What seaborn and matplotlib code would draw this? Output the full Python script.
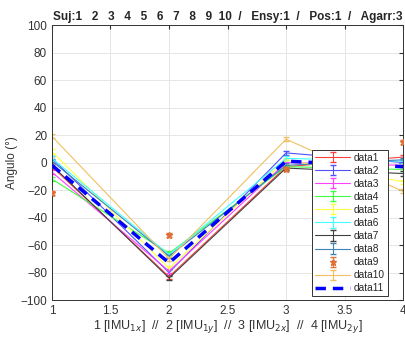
import numpy as np
import pandas as pd
import matplotlib
matplotlib.use("Agg")
import matplotlib.pyplot as plt
import seaborn as sns

x = [1, 2, 3, 4]
names = ["data1", "data2", "data3", "data4", "data5", "data6", "data7", "data8", "data9", "data10"]
data1 = [-3, -83, -3, 4]
data2 = [3, -80, 7, 0]
data3 = [-7, -79, 0, -2]
data4 = [-12, -66, -3, -5]
data5 = [8, -77, 2, -14]
data6 = [3, -67, 3, 1]
data7 = [-2, -84, -4, -8]
data8 = [1, -68, -2, 2]
data9 = [-22, -53, -5, 15]
data10 = [19, -70, 17, -21]
data11 = [-2, -73, 1, -3]
err = [1.5, 1.5, 1.5, 1.5]

series = [data1, data2, data3, data4, data5, data6, data7, data8, data9, data10]
colors = ["#ff4040", "#5050ff", "#ff40ff", "#40ff40", "#ffff40", "#40ffff",
          "#404040", "#3a84b8", "#e0703a", "#f0c060"]

sns.set_style("white")
plt.rcParams['font.family'] = ['Liberation Sans', 'DejaVu Sans']

fig = plt.figure(figsize=(4.06, 3.39), dpi=100)
ax = fig.add_axes([0.128, 0.115, 0.865, 0.811])

for name, vals, c in zip(names, series, colors):
    if name == "data9":
        ax.errorbar(x, vals, yerr=err, color=c, marker="*", markersize=5,
                    linestyle="none", capsize=2, elinewidth=0.8, label=name, zorder=3)
    else:
        ax.errorbar(x, vals, yerr=err, color=c, linewidth=0.8, capsize=2,
                    elinewidth=0.8, label=name, zorder=2)

df = pd.DataFrame({"x": x, "y": data11})
sns.lineplot(data=df, x="x", y="y", ax=ax, color="#0000ff", linewidth=2.5,
             linestyle=(0, (3, 2)), label="data11", zorder=4)

ax.set_xlim(1, 4)
ax.set_ylim(-100, 100)
ax.set_xticks([1, 1.5, 2, 2.5, 3, 3.5, 4])
ax.set_xticklabels(["1", "1.5", "2", "2.5", "3", "3.5", "4"])
ax.set_yticks(np.arange(-100, 101, 20))
ax.grid(True, color="#e6e6e6", linewidth=0.7)
ax.tick_params(direction="in", length=3, labelsize=8.5, colors="#333333",
               top=True, right=True)
for s in ax.spines.values():
    s.set_color("#333333")
    s.set_linewidth(0.7)

ax.set_xlabel(r"1 [IMU$_{1x}$]  //  2 [IMU$_{1y}$]  //  3 [IMU$_{2x}$]  //  4 [IMU$_{2y}$]",
              fontsize=9, color="#333333", labelpad=1)
ax.set_ylabel("Angulo (°)", fontsize=8.5, color="#333333", labelpad=2)
ax.set_title("Suj:1   2   3   4   5   6   7   8   9  10  /   Ensy:1  /   Pos:1  /   Agarr:3",
             fontsize=8.5, fontweight="bold", pad=4)

handles, labels = ax.get_legend_handles_labels()
order = [labels.index(n) for n in names + ["data11"]]
leg = ax.legend([handles[i] for i in order], [labels[i] for i in order],
                loc="upper left", bbox_to_anchor=(0.727, 0.565), fontsize=7.3,
                frameon=True, fancybox=False, edgecolor="#333333", framealpha=1,
                handlelength=3.4, labelspacing=0.3, borderpad=0.3, handletextpad=0.4)
leg.get_frame().set_linewidth(0.7)

fig.savefig("out.png", dpi=100)
